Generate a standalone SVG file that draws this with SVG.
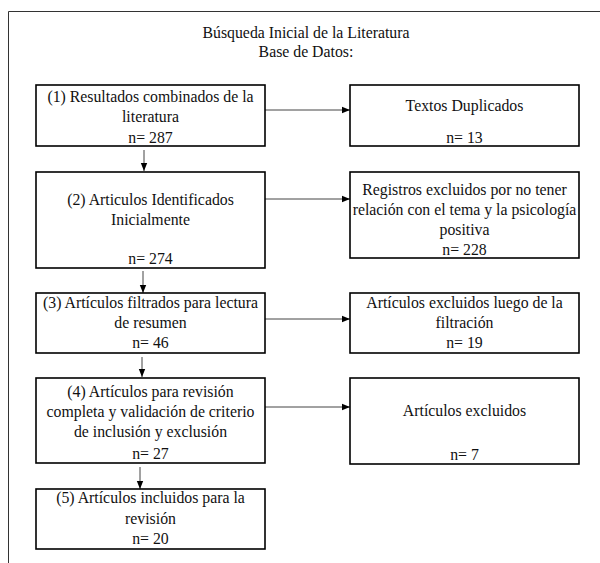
<svg xmlns="http://www.w3.org/2000/svg" width="600" height="563" viewBox="0 0 600 563">
<style>
text{font-family:"Liberation Serif","Times New Roman",serif;font-size:15.8px;fill:#111;text-anchor:middle}
.box{fill:#fff;stroke:#000;stroke-width:1.6}
.frame{fill:none;stroke:#333;stroke-width:1}
.conn{stroke:#444;stroke-width:1;fill:none;marker-end:url(#ah)}
</style>
<defs>
<marker id="ah" viewBox="0 0 10 10" refX="10" refY="5" markerWidth="8" markerHeight="8" markerUnits="userSpaceOnUse" orient="auto">
<path d="M0,1 L10,5 L0,9 Z" fill="#000"/>
</marker>
</defs>
<rect width="600" height="563" fill="#fff"/>
<path class="frame" d="M8.5,563 V11.5 H600"/>
<g id="title">
<text x="306" y="38">Búsqueda Inicial de la Literatura</text>
<text x="306" y="57">Base de Datos:</text>
</g>
<g id="connectors">
<line class="conn" x1="144" y1="150" x2="144" y2="171"/>
<line class="conn" x1="143" y1="271" x2="143" y2="293"/>
<line class="conn" x1="142" y1="357" x2="142" y2="377"/>
<line class="conn" x1="140" y1="467" x2="140" y2="489"/>
<line class="conn" x1="265" y1="110" x2="350" y2="110"/>
<line class="conn" x1="265" y1="199" x2="350" y2="199"/>
<line class="conn" x1="265" y1="319" x2="350" y2="319"/>
<line class="conn" x1="265" y1="407" x2="350" y2="407"/>
</g>
<g id="n1">
<rect class="box" x="36" y="85" width="229" height="61"/>
<text x="150.5" y="102">(1) Resultados combinados de la</text>
<text x="150.5" y="122">literatura</text>
<text x="150.5" y="143">n= 287</text>
</g>
<g id="dup">
<rect class="box" x="350" y="85" width="229" height="61"/>
<text x="464.5" y="111">Textos Duplicados</text>
<text x="464.5" y="143">n= 13</text>
</g>
<g id="n2">
<rect class="box" x="36" y="172" width="229" height="96"/>
<text x="150.5" y="205">(2) Articulos Identificados</text>
<text x="150.5" y="225">Inicialmente</text>
<text x="150.5" y="264">n= 274</text>
</g>
<g id="reg">
<rect class="box" x="350" y="172" width="229" height="86"/>
<text x="464.5" y="195">Registros excluidos por no tener</text>
<text x="464.5" y="215">relación con el tema y la psicología</text>
<text x="464.5" y="235">positiva</text>
<text x="464.5" y="255">n= 228</text>
</g>
<g id="n3">
<rect class="box" x="36" y="293" width="229" height="60"/>
<text x="150.5" y="308">(3) Artículos filtrados para lectura</text>
<text x="150.5" y="328">de resumen</text>
<text x="150.5" y="348">n= 46</text>
</g>
<g id="filt">
<rect class="box" x="350" y="293" width="229" height="60"/>
<text x="464.5" y="308">Artículos excluidos luego de la</text>
<text x="464.5" y="328">filtración</text>
<text x="464.5" y="348">n= 19</text>
</g>
<g id="n4">
<rect class="box" x="36" y="378" width="229" height="85"/>
<text x="150.5" y="397">(4) Artículos para revisión</text>
<text x="150.5" y="417">completa y validación de criterio</text>
<text x="150.5" y="437">de inclusión y exclusión</text>
<text x="150.5" y="459">n= 27</text>
</g>
<g id="exc">
<rect class="box" x="350" y="378" width="229" height="86"/>
<text x="464.5" y="416">Artículos excluidos</text>
<text x="464.5" y="460">n= 7</text>
</g>
<g id="n5">
<rect class="box" x="36" y="489" width="229" height="60"/>
<text x="150.5" y="503">(5) Artículos incluidos para la</text>
<text x="150.5" y="524">revisión</text>
<text x="150.5" y="544">n= 20</text>
</g>
</svg>
